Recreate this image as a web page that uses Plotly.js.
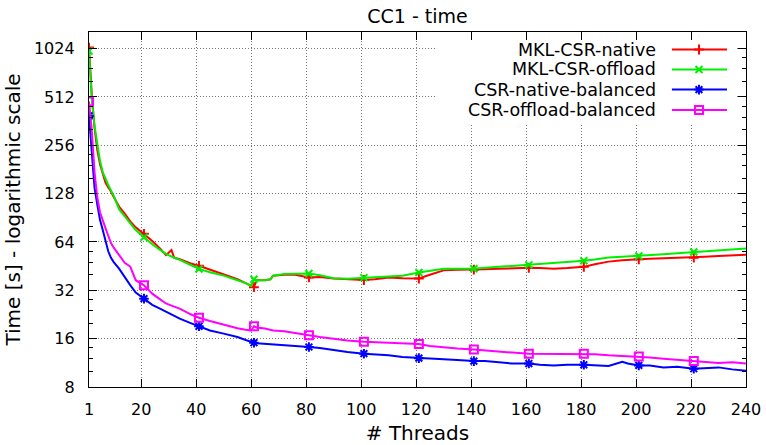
<!DOCTYPE html>
<html>
<head>
<meta charset="utf-8">
<script src="https://cdn.plot.ly/plotly-3.0.1.min.js"></script>
<style>
  html, body { margin: 0; padding: 0; background: #ffffff; }
  #chart { width: 766px; height: 445px; }
</style>
</head>
<body>
<div id="chart"></div>
<script>
// ---------------- data ----------------
const threads = [1,2,3,4,5,6,7,8,9,10,12,14,16,18,21,24,27,29,31,32,34,38,41,45,50,55,58,60,61,62,65,67,68,72,76,81,85,90,95,101,105,110,115,121,125,130,135,141,145,150,155,161,165,170,175,181,185,190,195,197,201,205,210,215,221,225,230,235,240];

const mklCsrNative = [1040,530,330,240,195,168,150,140,132,122,106,96,86,79,72,65,58,53,57,51,50,47,45.5,43,40,37.5,35.5,34,33.5,37,37,37.5,39.5,40,40,38.5,38.7,37.9,37.5,37.1,37.5,38.4,38,37.9,40,42.6,43,43,43.3,43.6,44,44.2,44,43.6,44,44.8,46.5,48.3,49.3,49.6,49.9,50.3,50.7,50.9,51.1,51.8,52.4,53,53.3];

const mklCsrOffload = [990,500,340,265,205,174,157,145,134,124,102,92,84,76,68.5,62,57,54,52,51,49.5,46,43.5,41.5,39.5,37,35.5,34,37.5,37,37,37.5,39.5,40.5,40.5,40.7,39.7,38,37.8,38.4,38.6,39,39.5,41.3,42.5,43.6,43.6,43.6,44.2,44.8,45.5,46.1,46.5,47.2,48,48.9,49.8,51.2,51.8,52,52.4,53,53.7,54.5,55.4,56,57.1,57.6,58.2];

const csrNativeBalanced = [390,230,140,110,88,76,64,56,51,48,43.5,38.5,34.5,31,28.4,26,24.5,23.5,22.5,22,21.3,20,19.1,18,17.2,16.4,15.7,15.2,15.1,15,14.9,14.8,14.7,14.6,14.4,14.2,14,13.6,13.2,12.9,12.8,12.6,12.3,12.1,12,11.9,11.8,11.6,11.6,11.4,11.2,11.2,11,10.9,11,11,10.9,10.8,11.5,11.2,10.9,10.9,10.6,10.7,10.4,10.5,10.6,10.3,10.1];

const csrOffloadBalanced = [480,320,175,122,98,86,78,70,63,59,53,47.5,45,37,34.4,30.5,28,26.5,25.7,25.3,24.6,22.7,21.6,20.6,19.5,18.6,18.2,18,19.1,18.8,18.5,18.2,18,17.8,17.3,16.8,16.4,16,15.6,15.3,15.2,15.1,14.9,14.8,14.4,14.1,13.9,13.7,13.5,13.3,13.1,12.9,12.9,12.9,12.9,12.9,12.8,12.6,12.5,12.4,12.4,12.2,12,11.8,11.6,11.5,11.3,11.4,11.2];

const seriesNames = ["MKL-CSR-native", "MKL-CSR-offload", "CSR-native-balanced", "CSR-offload-balanced"];
const seriesValues = [mklCsrNative, mklCsrOffload, csrNativeBalanced, csrOffloadBalanced];

const xTickVals = [1,20,40,60,80,100,120,140,160,180,200,220,240];
const yTickVals = [8,16,32,64,128,256,512,1024];
const yTickText = ["8","16","32","64","128","256","512","1024"];

const chartTitle = "CC1 - time";
const xTitle = "# Threads";
const yTitle = "Time [s] - logarithmic scale";

// ---------------- styles ----------------
const FONT = "DejaVu Sans, Verdana, sans-serif";
const styles = [
  {color: "#ff0000", symbol: "cross-thin-open", size: 7},
  {color: "#00ee00", symbol: "x-thin-open", size: 7},
  {color: "#0000ff", symbol: "asterisk-open", size: 8},
  {color: "#ff00ff", symbol: "square-open", size: 8}
];
const markEvery = 20;

const traces = [];
seriesValues.forEach((vals, i) => {
  const st = styles[i];
  traces.push({
    type: "scatter", mode: "lines", x: threads, y: vals,
    line: {color: st.color, width: 2}, showlegend: false, hoverinfo: "skip"
  });
  const mx = [], my = [];
  threads.forEach((t, k) => { if ((t - 1) % markEvery === 0) { mx.push(t); my.push(vals[k]); } });
  traces.push({
    type: "scatter", mode: "markers", x: mx, y: my,
    marker: {symbol: st.symbol, size: st.size, color: st.color, line: {color: st.color, width: 2}},
    showlegend: false, hoverinfo: "skip"
  });
});

// ---------------- gnuplot-like key (right-aligned text, sample on the right) ----------------
const keyRows = [0.888, 0.653, 0.4165, 0.176];
const keyLine = [0.787, 0.970];
const keyMark = 0.877;
const keyTextX = 0.741;
const annotations = [];
seriesNames.forEach((name, i) => {
  const st = styles[i];
  traces.push({
    type: "scatter", mode: "lines", xaxis: "x2", yaxis: "y2",
    x: keyLine, y: [keyRows[i], keyRows[i]],
    line: {color: st.color, width: 2}, showlegend: false, hoverinfo: "skip"
  });
  traces.push({
    type: "scatter", mode: "markers", xaxis: "x2", yaxis: "y2",
    x: [keyMark], y: [keyRows[i]],
    marker: {symbol: st.symbol, size: st.size, color: st.color, line: {color: st.color, width: 2}},
    showlegend: false, hoverinfo: "skip"
  });
  annotations.push({
    xref: "x2", yref: "y2", x: keyTextX, y: keyRows[i],
    xanchor: "right", yanchor: "middle", showarrow: false,
    text: name, font: {family: FONT, size: 17.5, color: "#000"}
  });
});

// minor ticks on the log axis
const yMinor = [];
yTickVals.slice(0, -1).forEach(v => { [1.25, 1.5, 1.75].forEach(f => yMinor.push(v * f)); });

const layout = {
  width: 766, height: 445,
  margin: {l: 89, r: 20, t: 32, b: 58},
  paper_bgcolor: "#ffffff", plot_bgcolor: "#ffffff",
  font: {family: FONT, size: 16, color: "#000"},
  showlegend: false,
  title: {
    text: chartTitle, font: {family: FONT, size: 19, color: "#000"},
    x: 0.5, xref: "paper", xanchor: "center",
    y: 1 - 16.5 / 445, yref: "container", yanchor: "middle"
  },
  xaxis: {
    range: [1, 240], tickmode: "array", tickvals: xTickVals,
    ticks: "inside", ticklen: 8, tickwidth: 1, tickcolor: "#000",
    showline: true, linecolor: "#000", linewidth: 1.2, mirror: "allticks",
    showgrid: true, gridcolor: "#777", gridwidth: 1, griddash: "1px,2px",
    zeroline: false, ticklabelstandoff: 8,
    tickfont: {family: FONT, size: 16, color: "#000"},
    title: {text: xTitle, font: {family: FONT, size: 20, color: "#000"}, standoff: 10}
  },
  yaxis: {
    type: "log", range: [Math.log10(8), Math.log10(1300)],
    tickmode: "array", tickvals: yTickVals, ticktext: yTickText,
    ticks: "inside", ticklen: 8, tickwidth: 1, tickcolor: "#000",
    minor: {tickmode: "array", tickvals: yMinor, ticks: "inside", ticklen: 4, tickcolor: "#000", showgrid: false},
    showline: true, linecolor: "#000", linewidth: 1.2, mirror: "allticks",
    showgrid: true, gridcolor: "#777", gridwidth: 1, griddash: "1px,2px",
    zeroline: false, ticklabelstandoff: 10,
    tickfont: {family: FONT, size: 16, color: "#000"},
    title: {text: yTitle, font: {family: FONT, size: 20, color: "#000"}, standoff: 7}
  },
  xaxis2: {domain: [0.5266, 0.9848], range: [0, 1], anchor: "y2", visible: false, fixedrange: true},
  yaxis2: {domain: [0.738, 0.9775], range: [0, 1], anchor: "x2", visible: false, fixedrange: true},
  annotations: annotations
};

Plotly.newPlot("chart", traces, layout, {staticPlot: true, displayModeBar: false});
</script>
</body>
</html>
